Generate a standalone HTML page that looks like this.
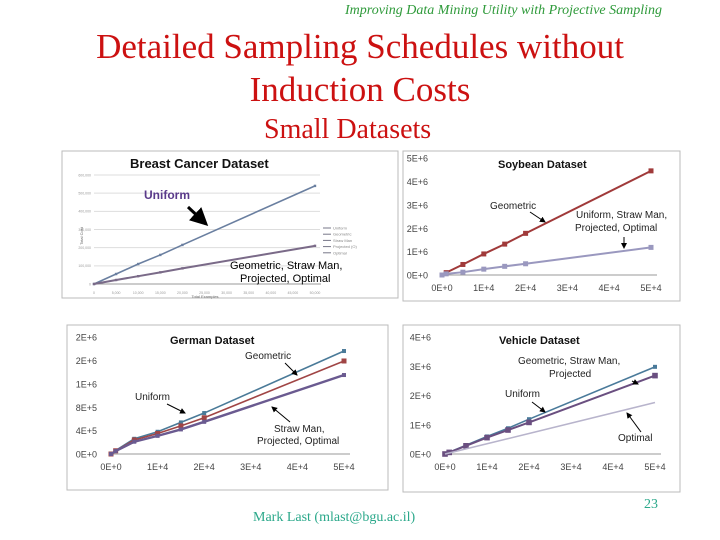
<!DOCTYPE html>
<html><head><meta charset="utf-8">
<style>
body{margin:0;width:720px;height:540px;background:#fff;overflow:hidden;position:relative;font-family:"Liberation Serif",serif}
.t{position:absolute;white-space:nowrap}
svg{position:absolute;left:0;top:0}
</style></head><body>
<div class="t" style="left:345px;top:3px;font-size:14px;font-style:italic;color:#2e9a3a">Improving Data Mining Utility with Projective Sampling</div>
<div class="t" style="left:0;width:720px;text-align:center;top:27px;font-size:35px;color:#cc1111">Detailed Sampling Schedules without</div>
<div class="t" style="left:0;width:720px;text-align:center;top:70px;font-size:35px;color:#cc1111">Induction Costs</div>
<div class="t" style="left:264px;top:114px;font-size:28px;color:#cc1111">Small Datasets</div>
<div class="t" style="left:253px;top:510px;font-size:14px;color:#2aa88a">Mark Last (mlast@bgu.ac.il)</div>
<div class="t" style="left:644px;top:497px;font-size:14px;color:#2aa88a">23</div>
<svg id="s" width="720" height="540"></svg>
<script>
// Shared x categories (training examples)
const xsFull=[0,1000,5000,10000,15000,20000,50000];
const xTicks=["0E+0","1E+4","2E+4","3E+4","4E+4","5E+4"];
// Breast cancer
const bcX=[0,5000,10000,15000,20000,50000];
const bcUniform=[0,55000,110000,160000,215000,540000];
const bcOthers=[0,22000,43000,64000,86000,210000];
const bcYTicks=["0","100,000","200,000","300,000","400,000","500,000","600,000"];
const bcXTicks=["0","5,000","10,000","15,000","20,000","25,000","30,000","35,000","40,000","45,000","50,000"];
// Soybean
const soyGeometric=[0,100000,450000,900000,1320000,1780000,4450000];
const soyOthers=[0,50000,120000,250000,370000,480000,1180000];
const soyYTicks=["0E+0","1E+6","2E+6","3E+6","4E+6","5E+6"];
// German
const gerUniform=[0,60000,260000,380000,540000,700000,1760000];
const gerGeometric=[0,55000,240000,350000,480000,620000,1590000];
const gerOthers=[0,50000,210000,310000,420000,550000,1350000];
const gerYTicks=["0E+0","4E+5","8E+5","1E+6","2E+6","2E+6"];
// Vehicle
const vehUniform=[0,60000,300000,600000,880000,1190000,2980000];
const vehGeometric=[0,55000,280000,560000,820000,1080000,2680000];
const vehOptimal=[0,35000,175000,350000,525000,700000,1760000];
const vehYTicks=["0E+0","1E+6","2E+6","3E+6","4E+6"];

const S=document.getElementById('s'),NS='http://www.w3.org/2000/svg';
function mk(t,a,p){const e=document.createElementNS(NS,t);for(const k in a)e.setAttribute(k,a[k]);(p||S).appendChild(e);return e;}
function txt(x,y,s,sz,fill,name,extra){const e=mk('text',Object.assign({x:x,y:y,'font-size':sz,fill:fill,'font-family':'"Liberation Sans",sans-serif'},extra||{}));e.textContent=s;return e;}

function chart(o){
  const g=mk('g',{});
  
  
  const fr=mk('rect',{x:o.box[0],y:o.box[1],width:o.box[2],height:o.box[3],fill:'#fff',stroke:'#bbb','stroke-width':1},g);
  
  
  const xs=v=>o.x0+(o.x1-o.x0)*v/o.xmax, ys=v=>o.y0-(o.y0-o.y1)*v/o.ymax;
  if(o.grid){for(let i=0;i<=o.grid;i++){const y=ys(o.ymax*i/o.grid);const l=mk('line',{x1:o.x0,x2:o.x1+5,y1:y,y2:y,stroke:'#ddd'},g);}}
  mk('line',{x1:o.x0,x2:o.x1+6,y1:o.y0,y2:o.y0,stroke:'#999'},g);
  const fs=o.tfs||9, tc=o.tc||'#444';
  if(o.yt){o.yt.forEach((t,i)=>{const y=ys(o.ymax*i/(o.yt.length-1));txt(o.x0-(o.yoff||14),y+fs*0.4,t,fs,tc,'y-tick-label',{'text-anchor':'end'});});}
  if(o.xt){o.xt.forEach((t,i)=>{const x=xs(o.xmax*i/(o.xt.length-1));txt(x,o.y0+(o.xoff||16),t,fs,tc,'x-tick-label',{'text-anchor':'middle'});});}
  o.series.forEach(s=>{
    const pts=s.v.map((v,i)=>xs(s.x[i])+','+ys(v)).join(' ');
    const pl=mk('polyline',{points:pts,fill:'none',stroke:s.c,'stroke-width':s.w||1.6},g);
    
    
    if(s.m)s.v.forEach((v,i)=>{const r=mk('rect',{x:xs(s.x[i])-s.m,y:ys(v)-s.m,width:2*s.m,height:2*s.m,fill:s.c},g);});
  });
  txt(o.tx,o.ty,o.title,o.ts||11,'#111','chart-title',{'font-weight':'bold'});
  return g;
}
chart({name:'breast-cancer-chart',box:[62,151,336,147],x0:94,x1:315,y0:284,y1:175,xmax:50000,ymax:600000,grid:6,
  yt:bcYTicks,xt:bcXTicks,tfs:3.5,tc:'#999',yoff:3,xoff:10,
  series:[{x:bcX,v:bcUniform,c:'#6a7fa0',n:'uniform-line',m:1.2},{x:bcX,v:bcOthers,c:'#7a6a88',n:'others-line',m:1.2,w:2}],
  title:'Breast Cancer Dataset',tx:130,ty:168,ts:13});
txt(83,236,'Total Cost',4,'#666','y-axis-title',{transform:'rotate(-90 83 236)','text-anchor':'middle'});
txt(205,298,'Total Examples',4,'#666','x-axis-title',{'text-anchor':'middle'});
["Uniform","Geometric","Straw Man","Projected (O)","Optimal"].forEach((s,i)=>{const y=228+i*6.2;const l=mk('line',{x1:323,x2:331,y1:y,y2:y,stroke:'#778'});txt(333,y+1.5,s,4,'#888','legend-entry');});
chart({name:'soybean-chart',box:[403,151,277,150],x0:442,x1:651,y0:275,y1:158,xmax:50000,ymax:5000000,
  yt:soyYTicks,xt:xTicks,series:[{x:xsFull,v:soyGeometric,c:'#a03a3a',n:'geometric-line',m:2.5,w:2},{x:xsFull,v:soyOthers,c:'#9a98bf',n:'others-line',m:2.5,w:2}],
  title:'Soybean Dataset',tx:498,ty:168});
chart({name:'german-chart',box:[67,325,321,165],x0:111,x1:344,y0:454,y1:337,xmax:50000,ymax:2000000,
  yt:gerYTicks,xt:xTicks,series:[{x:xsFull,v:gerUniform,c:'#4a7a98',n:'uniform-line',m:2},{x:xsFull,v:gerGeometric,c:'#a04545',n:'geometric-line',m:2.5},{x:xsFull,v:gerOthers,c:'#6a5a90',n:'others-line',m:2,w:2.4}],
  title:'German Dataset',tx:170,ty:344});
chart({name:'vehicle-chart',box:[403,325,277,167],x0:445,x1:655,y0:454,y1:337,xmax:50000,ymax:4000000,
  yt:vehYTicks,xt:xTicks,series:[{x:xsFull,v:vehUniform,c:'#4a7a9a',n:'uniform-line',m:2},{x:xsFull,v:vehGeometric,c:'#6a4f80',n:'geometric-line',m:2.8,w:2},{x:xsFull,v:vehOptimal,c:'#b8b4cc',n:'optimal-line',w:1.6}],
  title:'Vehicle Dataset',tx:499,ty:344});

// annotations
function ann(x,y,s,sz,c,name,bold){const e=txt(x,y,s,sz,c,name,bold?{'font-weight':'bold'}:{});return e;}
function arrow(x1,y1,x2,y2,w){const l=mk('line',{x1:x1,y1:y1,x2:x2,y2:y2,stroke:'#000','stroke-width':w||1,'marker-end':'url(#ah)'});}
const d=mk('defs',{});const mm=mk('marker',{id:'ah',markerWidth:6,markerHeight:6,refX:5,refY:3,orient:'auto'},d);mk('path',{d:'M0,0 L6,3 L0,6 z',fill:'#000'},mm);
ann(144,199,'Uniform',12,'#5a3a8a','uniform-label',true);arrow(188,207,206,224,3);
ann(230,269,'Geometric, Straw Man,',11,'#000','others-label');ann(240,282,'Projected, Optimal',11,'#000','others-label-2');
ann(490,209,'Geometric',10,'#222','geometric-label');arrow(530,212,545,222);
ann(576,218,'Uniform,  Straw Man,',10,'#222','others-label');ann(575,231,'Projected, Optimal',10,'#222','others-label-2');arrow(624,237,624,248);
ann(245,359,'Geometric',10,'#222','geometric-label');arrow(285,363,297,375);
ann(135,400,'Uniform',10,'#222','uniform-label');arrow(167,404,185,413);
ann(274,432,'Straw Man,',10,'#222','others-label');ann(257,444,'Projected, Optimal',10,'#222','others-label-2');arrow(290,422,272,407);
ann(518,364,'Geometric, Straw Man,',10,'#222','geometric-label');ann(549,377,'Projected',10,'#222','geometric-label-2');arrow(632,381,638,384);
ann(505,397,'Uniform',10,'#222','uniform-label');arrow(532,402,545,412);
ann(618,441,'Optimal',10,'#222','optimal-label');arrow(641,432,627,413);
</script>
</body></html>
